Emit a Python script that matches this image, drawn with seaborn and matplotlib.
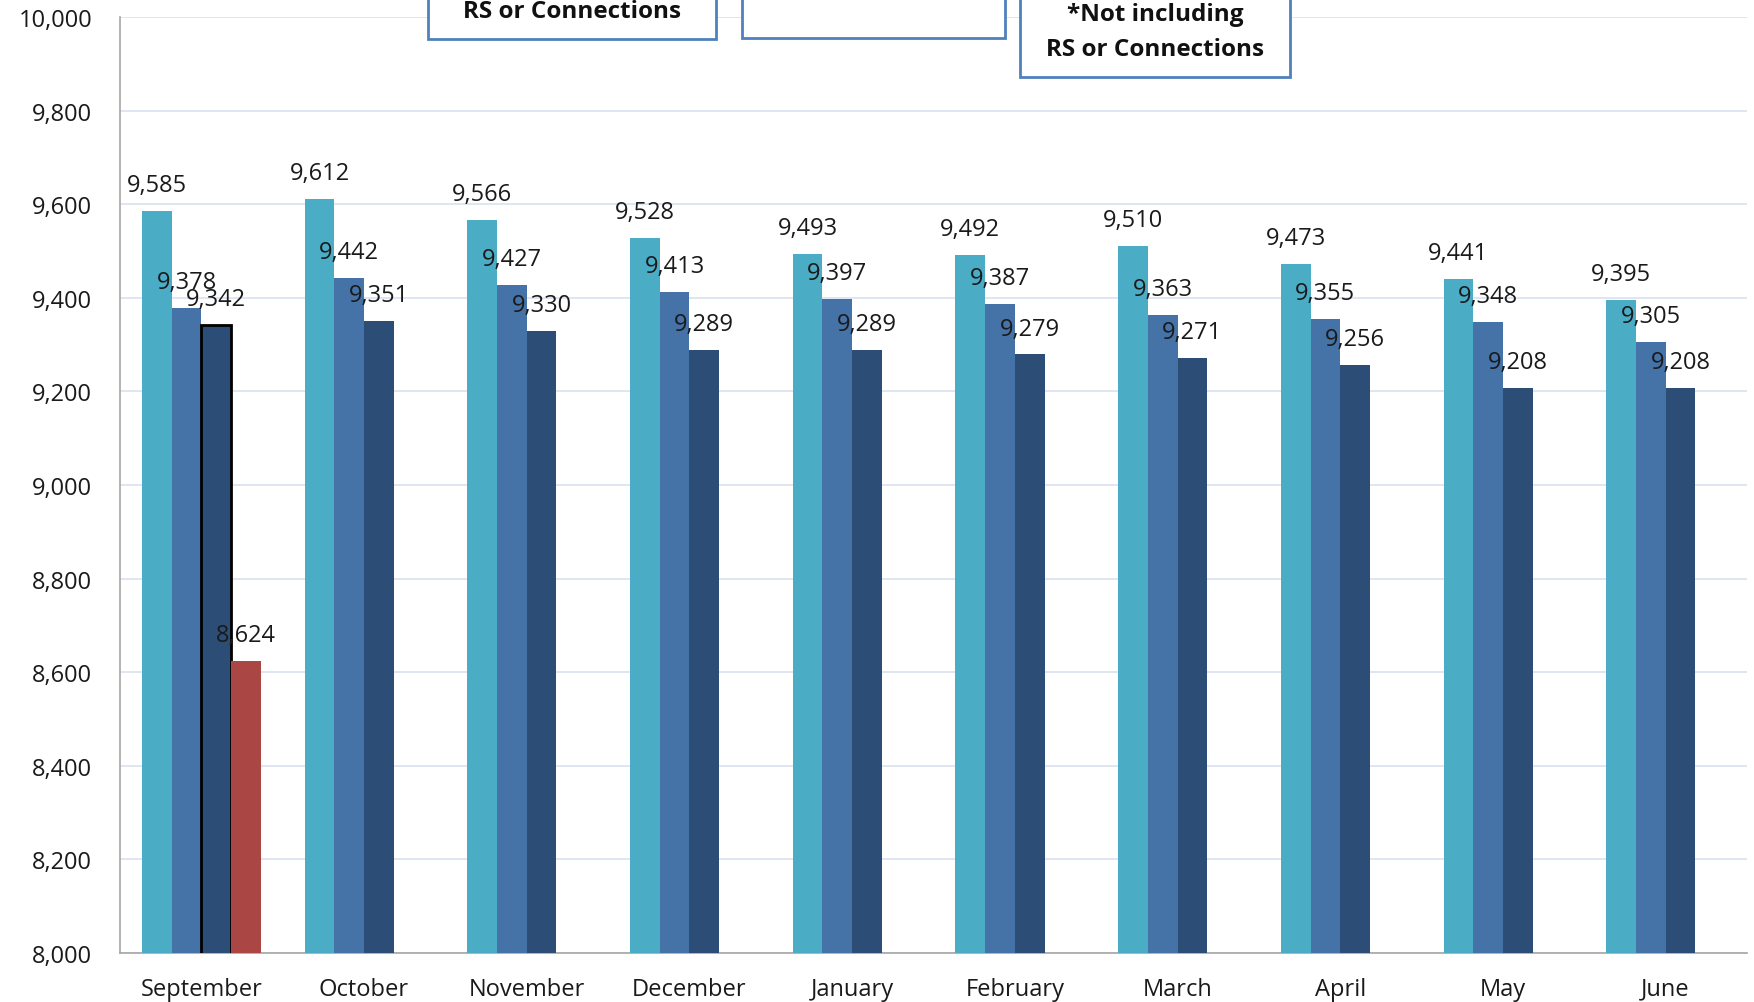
import matplotlib
matplotlib.use("Agg")
import matplotlib.pyplot as plt
from matplotlib.patches import Rectangle
from matplotlib.ticker import FuncFormatter
import seaborn as sns
import pandas as pd
import numpy as np

months = ["September", "October", "November", "December", "January",
          "February", "March", "April", "May", "June"]
series_a = [9585, 9612, 9566, 9528, 9493, 9492, 9510, 9473, 9441, 9395]
series_b = [9378, 9442, 9427, 9413, 9397, 9387, 9363, 9355, 9348, 9305]
series_c = [9342, 9351, 9330, 9289, 9289, 9279, 9271, 9256, 9208, 9208]
series_d = [8624, None, None, None, None, None, None, None, None, None]
series_names = ["Series A", "Series B", "Series C", "Series D"]
colors = ["#4BACC6", "#4572A7", "#2C4D75", "#AA4643"]
y_ticks = list(range(8000, 10001, 200))

rows = []
for name, vals in zip(series_names, [series_a, series_b, series_c, series_d]):
    for m, v in zip(months, vals):
        if v is not None:
            rows.append({"month": m, "series": name, "value": v})
df = pd.DataFrame(rows)

sns.set_theme(style="white")
plt.rcParams["font.family"] = ["Open Sans", "DejaVu Sans"]

fig = plt.figure(figsize=(17.54, 10.03), dpi=100)
ax = fig.add_axes([120 / 1754, 1 - 954 / 1003, (1747 - 120) / 1754, (954 - 18) / 1003])

sns.barplot(data=df, x="month", y="value", hue="series", order=months,
            hue_order=series_names, palette=colors, width=0.73,
            saturation=1, errorbar=None, legend=False, ax=ax, zorder=3)

ax.set_ylim(8000, 10000)
ax.set_xlim(-0.5, 9.5)
ax.set_yticks(y_ticks)
ax.yaxis.set_major_formatter(FuncFormatter(lambda v, p: f"{int(v):,}"))
ax.set_xlabel("")
ax.set_ylabel("")
ax.grid(axis="y", color="#D9E1F0", linewidth=1.2, zorder=0)
ax.set_axisbelow(True)
for s in ["top", "right"]:
    ax.spines[s].set_visible(False)
ax.spines["left"].set_color("#A6A6A6")
ax.spines["bottom"].set_color("#A6A6A6")
ax.spines["left"].set_linewidth(1.2)
ax.spines["bottom"].set_linewidth(1.2)
ax.tick_params(axis="y", length=0, pad=20, labelsize=17, labelcolor="#1a1a1a")
ax.tick_params(axis="x", length=0, pad=17, labelsize=17, labelcolor="#1a1a1a")

for cont in ax.containers:
    for p in cont.patches:
        p.set_edgecolor("none")
    ax.bar_label(cont, labels=[f"{int(round(b.get_height())):,}" for b in cont.patches],
                 padding=10, fontsize=17, color="#1a1a1a")

# highlight September third bar
hl = ax.containers[2].patches[0]
hl.set_edgecolor("black")
hl.set_linewidth(2)

# text boxes at top
edge = "#4F81BD"
def box(x0, x1, ybot, lines, ys):
    r = Rectangle((x0 / 1754, 1 - ybot / 1003), (x1 - x0) / 1754, (ybot + 40) / 1003,
                  transform=fig.transFigure, facecolor="white", edgecolor=edge,
                  linewidth=2, clip_on=False, zorder=10)
    fig.patches.append(r)
    for t, y in zip(lines, ys):
        fig.text((x0 + x1) / 2 / 1754, 1 - y / 1003, t, ha="center", va="center",
                 fontsize=17.5, fontweight="bold", color="#111111", zorder=11)

box(428, 716, 40, ["RS or Connections"], [12])
box(742, 1005, 39, [], [])
box(1020, 1290, 78, ["*Not including", "RS or Connections"], [15, 50])

fig.savefig("out.png", dpi=100)
